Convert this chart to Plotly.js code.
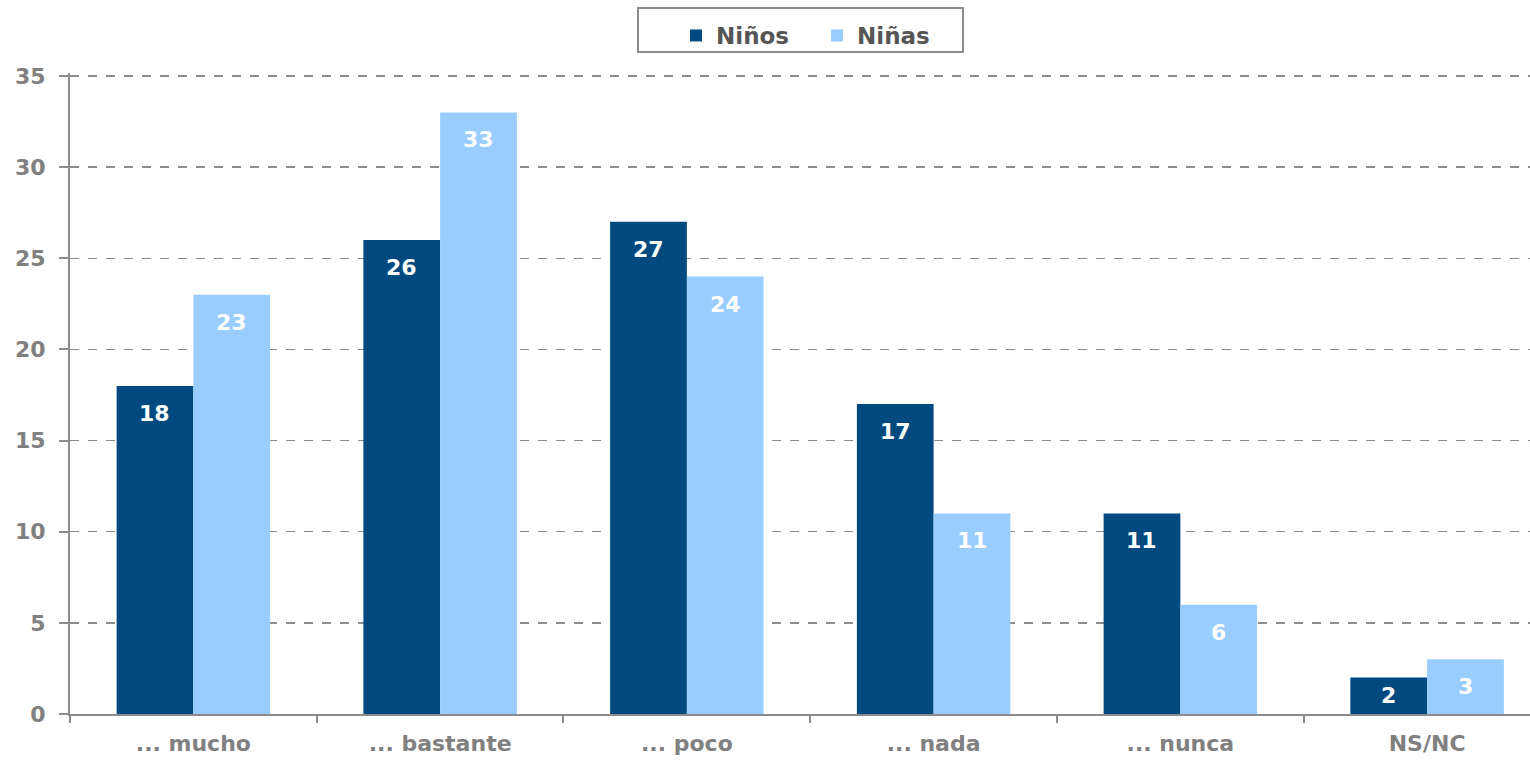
<!DOCTYPE html>
<html>
<head>
<meta charset="utf-8">
<script src="https://cdn.plot.ly/plotly-3.0.1.min.js"></script>
<style>html,body{margin:0;padding:0;background:#fff;}#chart{width:1530px;height:760px;}</style>
</head>
<body>
<div id="chart"></div>
<script>
const categories = ['... mucho', '... bastante', '... poco', '... nada', '... nunca', 'NS/NC'];
const ninos = [18, 26, 27, 17, 11, 2];
const ninas = [23, 33, 24, 11, 6, 3];
const seriesNames = ['Niños', 'Niñas'];
const yTicks = [0, 5, 10, 15, 20, 25, 30, 35];

const FONT = 'DejaVu Sans, Verdana, sans-serif';
const labelFont = {family: FONT, size: 22, color: '#ffffff', weight: 'bold'};

const W = 1530, H = 760;
const M = {l: 70, r: 0, t: 73, b: 46};
const Y_MAX = 35.165;
const plotH = H - M.t - M.b;

const traces = [
  {type: 'bar', name: seriesNames[0], x: categories, y: ninos,
   marker: {color: '#004A7F'}, hoverinfo: 'none'},
  {type: 'bar', name: seriesNames[1], x: categories, y: ninas,
   marker: {color: '#99CCFF'}, hoverinfo: 'none'}
];

// value labels at each bar's top, through the axes
const BAR_OFFSET_PX = 38.5;
const LABEL_BOX_PX = 30;
const annotations = [];
[ninos, ninas].forEach((vals, si) => {
  vals.forEach((v, i) => {
    const barPx = v / Y_MAX * plotH;
    const drop = Math.min(13, Math.max(0, (barPx - LABEL_BOX_PX) / 2));
    annotations.push({
      x: categories[i], y: v, xref: 'x', yref: 'y',
      text: String(v), showarrow: false,
      xanchor: 'center', yanchor: 'top',
      xshift: si === 0 ? -BAR_OFFSET_PX : BAR_OFFSET_PX, yshift: -drop,
      font: labelFont
    });
  });
});

// legend frame (px -> paper fractions)
const px2x = p => (p - M.l) / (W - M.l - M.r);
const px2y = p => 1 + (M.t - p) / plotH;

const layout = {
  width: W, height: H,
  margin: M,
  paper_bgcolor: '#ffffff', plot_bgcolor: '#ffffff',
  barmode: 'group', bargap: 0.378, bargroupgap: 0,
  showlegend: true,
  annotations: annotations,
  shapes: [{type: 'rect', xref: 'paper', yref: 'paper',
    x0: px2x(638), x1: px2x(963), y0: px2y(52), y1: px2y(8),
    line: {color: '#8c8c8c', width: 2}, fillcolor: 'rgba(0,0,0,0)', layer: 'above'}],
  legend: {orientation: 'h', x: px2x(676), xref: 'paper', xanchor: 'left', y: px2y(14), yanchor: 'top',
    borderwidth: 0, bgcolor: 'rgba(0,0,0,0)',
    font: {family: FONT, size: 23, color: '#555555', weight: 'bold'},
    entrywidth: 96, traceorder: 'normal'},
  xaxis: {
    type: 'category', range: [-0.5, 5.417],
    showline: true, linecolor: '#8c8c8c', linewidth: 2,
    ticks: 'outside', tickson: 'boundaries', ticklen: 7, tickcolor: '#8c8c8c', tickwidth: 2,
    tickfont: {family: FONT, size: 22, color: '#808080', weight: 'bold'},
    showgrid: false, zeroline: false, ticklabelstandoff: 9
  },
  yaxis: {
    range: [0, Y_MAX], tickvals: yTicks, ticktext: yTicks.map(String),
    showline: true, linecolor: '#8c8c8c', linewidth: 2,
    ticks: 'outside', ticklen: 9, tickcolor: '#8c8c8c', tickwidth: 2,
    tickfont: {family: FONT, size: 22, color: '#808080', weight: 'bold'},
    showgrid: true, gridcolor: '#8c8c8c', gridwidth: 1.5, griddash: 'dash',
    zeroline: false, ticklabelstandoff: 9
  }
};

Plotly.newPlot('chart', traces, layout, {staticPlot: true, displayModeBar: false});
</script>
</body>
</html>
